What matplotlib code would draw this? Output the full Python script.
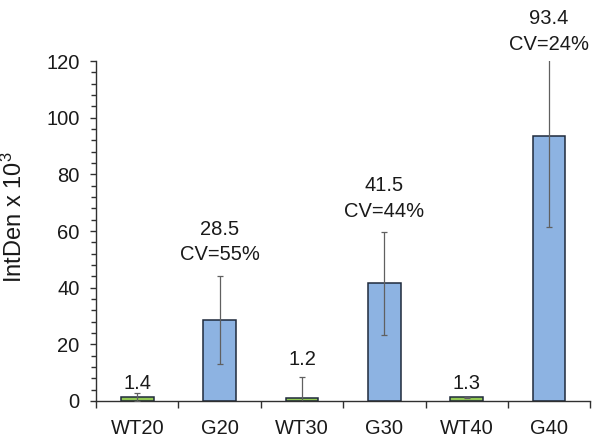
import numpy as np
import matplotlib
matplotlib.use("Agg")
import matplotlib.pyplot as plt

# Données
categories = ["WT20", "G20", "WT30", "G30", "WT40", "G40"]
means = [1.4, 28.5, 1.2, 41.5, 1.3, 93.4]
errors = [1.3, 15.6, 7.2, 18.3, 0.2, 32.0]
labels = ["1.4", "28.5\nCV=55%", "1.2", "41.5\nCV=44%", "1.3", "93.4\nCV=24%"]
bar_colors = ["#93c954", "#8db3e2", "#93c954", "#8db3e2", "#93c954", "#8db3e2"]
label_offsets = [0, 8.5, 6, 7.7, 2.4, 5]  # points au-dessus de la barre d'erreur

plt.rcParams["font.family"] = ["Liberation Sans", "DejaVu Sans"]
plt.rcParams["mathtext.fontset"] = "custom"
plt.rcParams["mathtext.rm"] = "Liberation Sans"
plt.rcParams["mathtext.it"] = "Liberation Sans"

fig = plt.figure(figsize=(6.01, 4.46), dpi=100)
ax = fig.add_axes([0.16, 0.1009, 0.822, 0.7622])

x = np.arange(len(categories))
ax.bar(x, means, width=0.4, color=bar_colors, edgecolor="#1f2a3c", linewidth=1.1, zorder=2)
ax.errorbar(x, means, yerr=errors, fmt="none", ecolor="#606060", elinewidth=0.9,
            capsize=2.5, capthick=0.9, zorder=3)

ax.set_ylim(0, 120)
ax.set_xlim(-0.5, len(categories) - 0.5)

for xi, m, e, lab, off in zip(x, means, errors, labels, label_offsets):
    top = min(m + e, 120)
    ax.annotate(lab, (xi, top), xytext=(0, off), textcoords="offset points",
                ha="center", va="bottom", fontsize=14.5, color="#1a1a1a",
                linespacing=1.45, annotation_clip=False)

# Axes
for s in ["top", "right"]:
    ax.spines[s].set_visible(False)
for s in ["left", "bottom"]:
    ax.spines[s].set_color("#303030")
    ax.spines[s].set_linewidth(1.0)

ax.set_yticks(np.arange(0, 121, 20))
ax.set_yticks(np.arange(0, 121, 4), minor=True)
ax.tick_params(axis="y", which="major", direction="out", length=4, width=1,
               labelsize=14.5, pad=8, colors="#303030", labelcolor="#1a1a1a")
ax.tick_params(axis="y", which="minor", direction="out", length=3.5, width=1,
               colors="#303030")

ax.set_xticks(np.arange(-0.5, len(categories), 1))
ax.set_xticklabels([])
ax.set_xticks(x, minor=True)
ax.set_xticklabels(categories, minor=True)
ax.tick_params(axis="x", which="major", direction="out", length=5, width=1, colors="#303030")
ax.tick_params(axis="x", which="minor", length=0, labelsize=14.5, pad=13, labelcolor="#1a1a1a")

ax.set_ylabel("IntDen x 10$^{3}$", fontsize=17, color="#1a1a1a")
ax.yaxis.set_label_coords(-0.14, 0.54)

fig.savefig("out.png", dpi=100)
